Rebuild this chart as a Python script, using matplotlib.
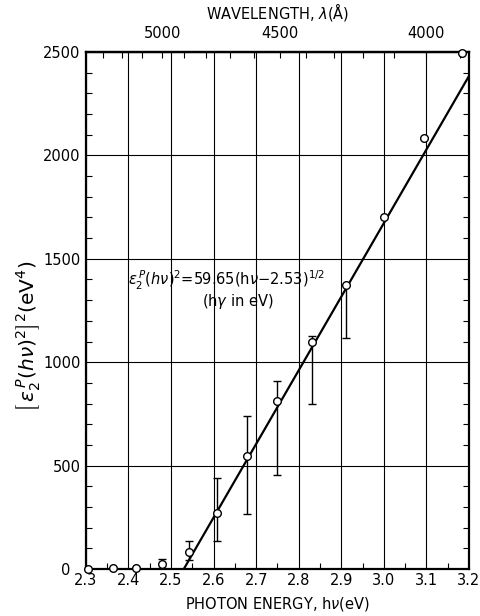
import matplotlib
matplotlib.use("Agg")
import matplotlib.pyplot as plt
import matplotlib.transforms as mtransforms
import numpy as np
from matplotlib.ticker import MultipleLocator, FixedLocator

plt.rcParams['font.family'] = ['DejaVu Sans']
plt.rcParams['mathtext.fontset'] = 'dejavusans'

# measured points (photon energy in eV, [eps2 (hv)^2]^2 in eV^4)
energy = [2.305, 2.363, 2.418, 2.478, 2.543, 2.609, 2.679, 2.750, 2.832, 2.911, 3.001, 3.095, 3.183]
value = [0, 3, 4, 24, 81, 269, 548, 814, 1099, 1375, 1704, 2086, 2495]
err_low = [0, 0, 0, 19, 38, 132, 282, 359, 301, 256, 0, 0, 0]
err_high = [0, 0, 0, 23, 54, 173, 192, 95, 29, 0, 0, 0, 0]

# fit from the annotation: eps2 (hv)^2 = 59.65 (hv - 2.53)^(1/2)
fit_coef = 59.65
fit_edge = 2.53
fit_x = [fit_edge, 3.2]

wl_major = [5000, 4500, 4000]
wl_minor = [5300, 5200, 5100, 4900, 4800, 4700, 4600, 4400, 4300, 4200, 4100, 3900]
HC = 12398.4

fig = plt.figure(figsize=(4.8, 6.16), dpi=100)
ax = fig.add_axes([0.179, 0.0763, 0.798, 0.8393])

ax.set_xlim(2.3, 3.2)
ax.set_ylim(0, 2500)

ax.xaxis.set_major_locator(MultipleLocator(0.1))
ax.xaxis.set_minor_locator(MultipleLocator(0.05))
ax.yaxis.set_major_locator(MultipleLocator(500))
ax.yaxis.set_minor_locator(MultipleLocator(100))
ax.grid(True, which='major', color='black', linewidth=0.8)
ax.set_axisbelow(True)

ax.tick_params(which='both', direction='in', right=True, top=False, labelsize=10.5)
ax.tick_params(which='major', length=0)
ax.tick_params(axis='x', which='major', pad=3)
ax.tick_params(axis='y', which='major', pad=4)
ax.tick_params(which='minor', length=4, width=0.8)
for s in ax.spines.values():
    s.set_linewidth(1.6)

ax.set_xticks(np.arange(2.3, 3.21, 0.1))
ax.set_xticklabels(['2.3', '2.4', '2.5', '2.6', '2.7', '2.8', '2.9', '3.0', '3.1', '3.2'])
ax.set_yticks([0, 500, 1000, 1500, 2000, 2500])
ax.set_yticklabels(['0', '500', '1000', '1500', '2000', '2500'])
# the zero label sits a bit further left, clear of the 2.3 label
zero = ax.yaxis.get_major_ticks()[0].label1
zero.set_transform(zero.get_transform() + mtransforms.ScaledTranslation(-7 / 72, 0, fig.dpi_scale_trans))

fx = np.array(fit_x)
ax.plot(fx, fit_coef ** 2 * (fx - fit_edge), color='black', linewidth=1.6, zorder=3)

ax.errorbar(energy, value, yerr=[err_low, err_high], fmt='none', ecolor='black',
            elinewidth=1.0, capsize=3, capthick=1.0, zorder=4)
ax.plot(energy, value, 'o', markersize=5.5, markerfacecolor='white',
        markeredgecolor='black', markeredgewidth=1.0, zorder=5, clip_on=False)

ax.set_xlabel(r'PHOTON ENERGY, h$\nu$(eV)', fontsize=10.5, labelpad=5)
ax.set_ylabel(r'$\left[\,\varepsilon_2^{\,P}(h\nu)^2\right]^2(\mathrm{eV}^4)$', fontsize=14.5)
ax.yaxis.set_label_coords(-0.115, 0.45)

top = ax.secondary_xaxis('top', functions=(lambda e: HC / np.clip(e, 1e-6, None),
                                           lambda w: HC / np.clip(w, 1e-6, None)))
top.xaxis.set_major_locator(FixedLocator(wl_major))
top.xaxis.set_minor_locator(FixedLocator(wl_minor))
top.tick_params(which='major', direction='in', length=4, width=0.8, labelsize=10.5, pad=8)
top.tick_params(which='minor', direction='in', length=4, width=0.8)
top.set_xlabel(r'WAVELENGTH, $\lambda$(Å)', fontsize=10.5, labelpad=5)
top.spines['top'].set_linewidth(1.6)

ax.text(2.40, 1395, r'$\varepsilon_2^{\,P}(h\nu)^2$=59.65(h$\nu$$-$2.53)$^{1/2}$',
        fontsize=10.5, ha='left', va='center')
ax.text(2.657, 1292, r'(h$\gamma$ in eV)', fontsize=10.5, ha='center', va='center')

fig.savefig('out.png', dpi=100)
